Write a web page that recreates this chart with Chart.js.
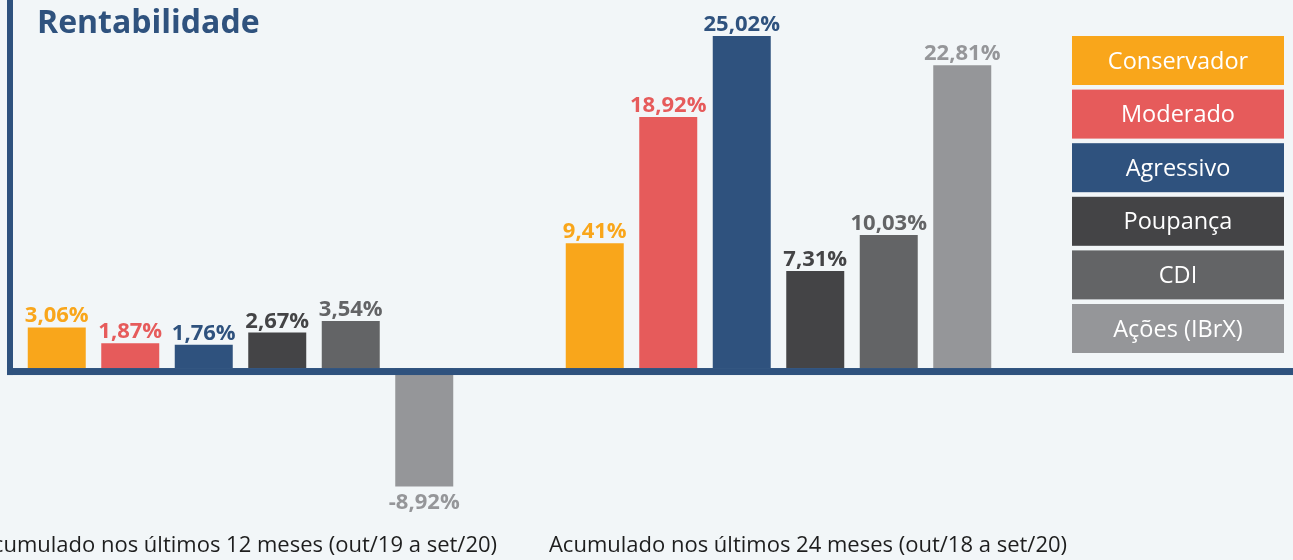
<!DOCTYPE html>
<html><head><meta charset="utf-8">
<script src="https://cdn.jsdelivr.net/npm/chart.js@4.4.1/dist/chart.umd.min.js"></script>
<style>html,body{margin:0;padding:0;background:#f2f6f8;} canvas{display:block;}</style>
</head><body>
<canvas id="c" width="1293" height="560"></canvas>
<script>
// ---- data ----
const categories = ['Acumulado nos últimos 12 meses (out/19 a set/20)', 'Acumulado nos últimos 24 meses (out/18 a set/20)'];
const seriesNames = ['Conservador', 'Moderado', 'Agressivo', 'Poupança', 'CDI', 'Ações (IBrX)'];
const conservador = [3.06, 9.41];
const moderado = [1.87, 18.92];
const agressivo = [1.76, 25.02];
const poupanca = [2.67, 7.31];
const cdi = [3.54, 10.03];
const acoes = [-8.92, 22.81];
const seriesColors = ['#f9a61b', '#e65b5b', '#2f527e', '#444446', '#636466', '#959699'];
const chartTitle = 'Rentabilidade';

// ---- style / layout ----
const BG = '#f2f6f8';
const AXIS_COLOR = '#2f527e';
const FONT = '"Open Sans", "Noto Sans", sans-serif';
const LABEL_AXIS_LEFT = 238, LABEL_AXIS_RIGHT = 808;

const fmt = v => v.toFixed(2).replace('.', ',') + '%';

const seriesValues = [conservador, moderado, agressivo, poupanca, cdi, acoes];
const datasets = seriesNames.map((name, i) => ({
  label: name,
  data: seriesValues[i],
  backgroundColor: seriesColors[i],
  borderWidth: 0,
  categoryPercentage: 0.8197,
  barPercentage: 0.789,
  clip: false,
  xAxisID: 'x',
  yAxisID: 'y'
}));

const customDraw = {
  id: 'customDraw',
  beforeDraw(chart) {
    const ctx = chart.ctx;
    ctx.save();
    ctx.fillStyle = BG;
    ctx.fillRect(0, 0, chart.width, chart.height);
    // title
    ctx.fillStyle = AXIS_COLOR;
    ctx.font = 'bold 32px ' + FONT;
    ctx.textAlign = 'left';
    ctx.textBaseline = 'alphabetic';
    ctx.fillText(chartTitle, 37, 33);
    // legend boxes
    chart.data.datasets.forEach((ds, i) => {
      const top = 36 + i * 53.6;
      ctx.fillStyle = ds.backgroundColor;
      ctx.fillRect(1072, top, 212, 49);
      ctx.fillStyle = '#ffffff';
      ctx.font = '23.5px ' + FONT;
      ctx.textAlign = 'center';
      ctx.fillText(ds.label, 1178, top + 32.5);
    });
    ctx.restore();
  },
  afterLayout(chart) {
    const s = chart.scales.xl;
    s.left = LABEL_AXIS_LEFT;
    s.right = LABEL_AXIS_RIGHT;
    s.width = LABEL_AXIS_RIGHT - LABEL_AXIS_LEFT;
    s.configure();
  },
  afterDatasetsDraw(chart) {
    const ctx = chart.ctx;
    const y0 = chart.scales.y.getPixelForValue(0);
    ctx.save();
    ctx.fillStyle = AXIS_COLOR;
    ctx.fillRect(7, 0, 6, y0 + 7);
    ctx.fillRect(7, y0, chart.width - 7, 7);
    ctx.font = 'bold 22px ' + FONT;
    ctx.textAlign = 'center';
    ctx.textBaseline = 'alphabetic';
    chart.data.datasets.forEach((ds, i) => {
      const meta = chart.getDatasetMeta(i);
      meta.data.forEach((bar, j) => {
        const v = ds.data[j];
        ctx.fillStyle = ds.backgroundColor;
        if (v >= 0) ctx.fillText(fmt(v), bar.x, bar.y - 5);
        else ctx.fillText(fmt(v), bar.x, bar.y + 23);
      });
    });
    ctx.restore();
  }
};

new Chart(document.getElementById('c'), {
  type: 'bar',
  data: { labels: categories, datasets },
  options: {
    responsive: false,
    animation: false,
    devicePixelRatio: 1,
    layout: { padding: { left: 240.5, right: 514.5, top: 0, bottom: 1 } },
    plugins: { legend: { display: false }, tooltip: { enabled: false }, title: { display: false } },
    scales: {
      x: { type: 'category', display: false, offset: false, grid: { display: false } },
      xl: {
        type: 'category', position: 'bottom', offset: false,
        grid: { display: false, drawTicks: false }, border: { display: false },
        ticks: { padding: 0, autoSkip: false, maxRotation: 0, minRotation: 0, color: '#1e1e1e', font: { family: FONT, size: 22 } },
        afterFit(s) { s.paddingLeft = 0; s.paddingRight = 0; }
      },
      y: { display: false, min: -12.4, max: 27.73 }
    }
  },
  plugins: [customDraw]
});
</script>
</body></html>
